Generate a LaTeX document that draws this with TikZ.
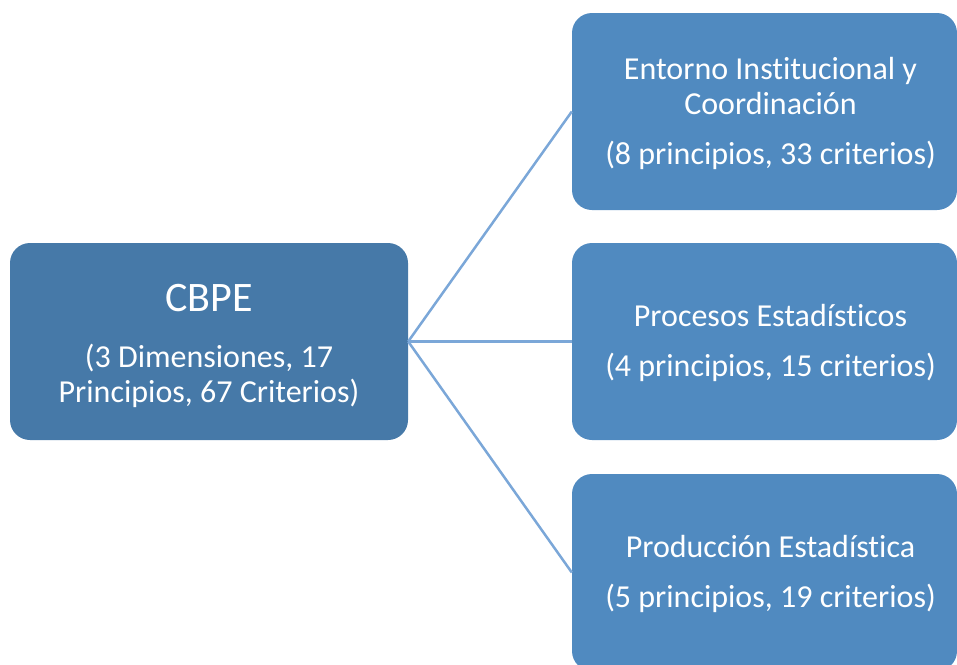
\documentclass[tikz,border=0pt]{standalone}
\usepackage{fontspec}
\setmainfont{Carlito}[Ligatures=NoCommon]
\usetikzlibrary{positioning}

\definecolor{rootblue}{HTML}{4679A8}
\definecolor{leafblue}{HTML}{508AC0}
\definecolor{linkblue}{HTML}{7BA7D8}

% text of a leaf box, set a little to the right of its centre
\newcommand{\leaftext}[1]{\hspace*{12pt}\begin{tabular}{@{}c@{}}\rule{0pt}{31pt}#1\end{tabular}}

\begin{document}
\begin{tikzpicture}[x = 1pt, y = -1pt,
    box/.style = {rounded corners = 20pt, text = white, inner sep = 0pt,
                  font = \fontsize{32}{35}\selectfont},
    rootbox/.style = {box, align = center, fill = rootblue, minimum width = 398pt, minimum height = 197pt},
    leafbox/.style = {box, fill = leafblue, minimum width = 385pt, minimum height = 197pt},
    link/.style = {draw = linkblue, line width = 2.5pt}]
  \useasboundingbox (0,0) rectangle (957,664);
  \begin{scope}
    \clip (0,0) rectangle (957,664);
    \node[rootbox] (cbpe) at (209,341.5)
      {\rule{0pt}{36pt}{\fontsize{42}{46}\selectfont CBPE}\\[21pt] (3 Dimensiones, 17\\ Principios, 67 Criterios)};
    \node[leafbox] (entorno) at (764.5,111.5)
      {\leaftext{Entorno Institucional y\\ Coordinación\\[15pt] (8 principios, 33 criterios)}};
    \node[leafbox] (procesos) at (764.5,341.5)
      {\leaftext{Procesos Estadísticos\\[15pt] (4 principios, 15 criterios)}};
    \node[leafbox] (produccion) at (764.5,572.5)
      {\leaftext{Producción Estadística\\[15pt] (5 principios, 19 criterios)}};
  \end{scope}
  \path[link] (cbpe.east) edge (entorno.west)
              (cbpe.east) edge (procesos.west)
              (cbpe.east) edge (produccion.west);
\end{tikzpicture}
\end{document}
